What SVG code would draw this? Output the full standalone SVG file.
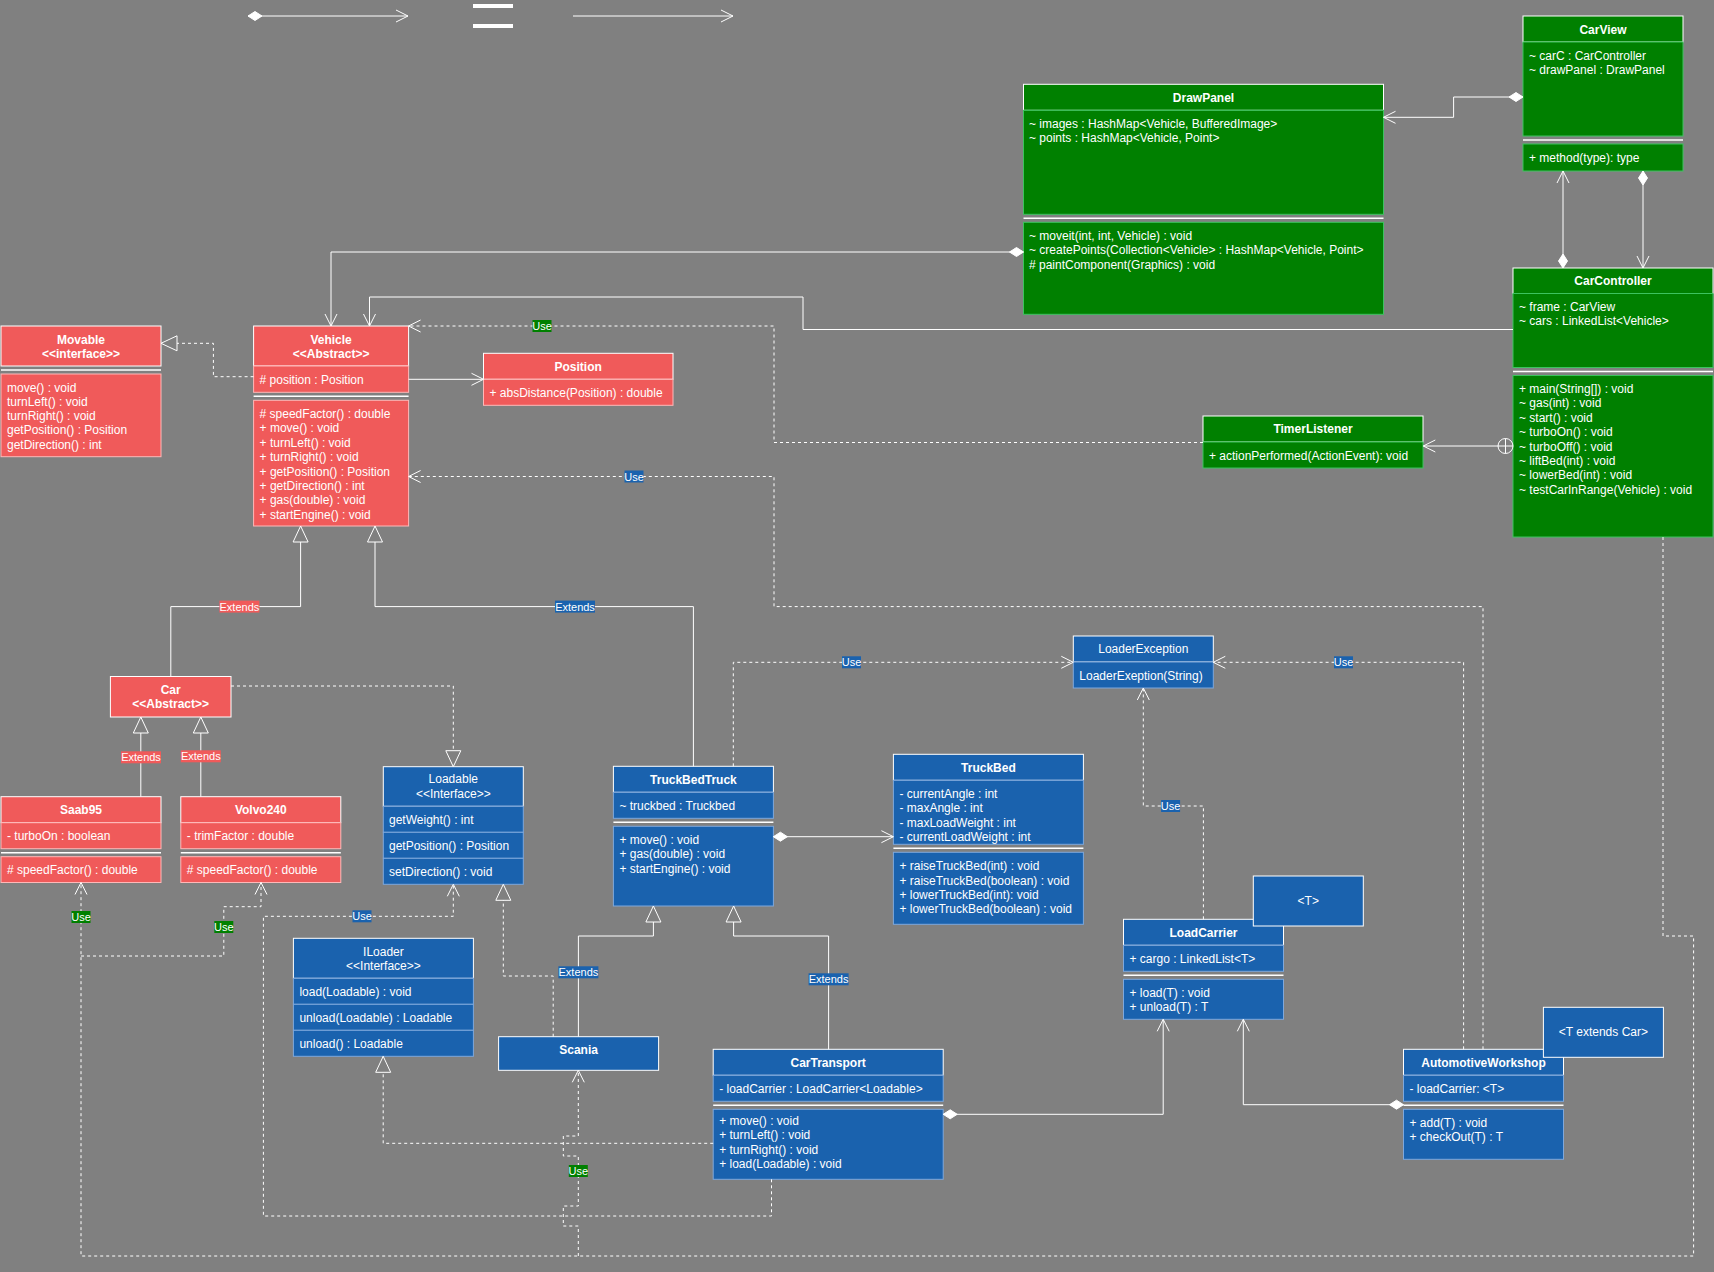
<svg xmlns="http://www.w3.org/2000/svg" width="1714" height="1272" viewBox="0 0 1714 1272">
  <style>
    text { font-family: "Liberation Sans", Arial, Helvetica, sans-serif; fill: #ffffff; font-size: 12px; }
    .b { font-weight: bold; text-anchor: middle; }
    .c { text-anchor: middle; }
    .lbl { font-size: 11px; text-anchor: middle; }
    .hg { fill: #008000; stroke: #ffffff; }
    .cg { fill: #008000; stroke: #3cc35f; }
    .hr { fill: #f05a5a; stroke: #ffffff; }
    .cr { fill: #f05a5a; stroke: #ffb8b8; }
    .hb { fill: #1a62ae; stroke: #ffffff; }
    .cb { fill: #1a62ae; stroke: #7ea8dc; }
    .sep { stroke: #ffffff; stroke-width: 1.5; }
    .ln { fill: none; stroke: #ffffff; stroke-width: 1; }
    .dash { stroke-dasharray: 3 3; }
    .lg { fill: #008000; }
    .lb { fill: #1a62ae; }
    .lr { fill: #f05a5a; }
  </style>
  <defs>
    <marker id="open" markerUnits="userSpaceOnUse" markerWidth="14" markerHeight="14" refX="13" refY="7" orient="auto" overflow="visible">
      <path d="M1,1 L13,7 L1,13" fill="none" stroke="#ffffff" stroke-width="1"/>
    </marker>
    <marker id="diamond" markerUnits="userSpaceOnUse" markerWidth="14" markerHeight="10" refX="0" refY="5" orient="auto" overflow="visible">
      <path d="M0,5 L7,0.5 L14,5 L7,9.5 Z" fill="#ffffff" stroke="#ffffff" stroke-width="1"/>
    </marker>
    <marker id="tri" markerUnits="userSpaceOnUse" markerWidth="16" markerHeight="16" refX="16" refY="8" orient="auto" overflow="visible">
      <path d="M0,0.5 L16,8 L0,15.5 Z" fill="#808080" stroke="#ffffff" stroke-width="1"/>
    </marker>
  </defs>

  <rect x="0" y="0" width="1714" height="1272" fill="#808080"/>

  <!-- notation strip -->
  <g id="legend">
    <path class="ln" d="M248,16 H408" marker-start="url(#diamond)" marker-end="url(#open)"/>
    <rect x="473" y="4" width="40" height="4" fill="#ffffff"/>
    <rect x="473" y="24" width="40" height="4" fill="#ffffff"/>
    <path class="ln" d="M573,16 H733" marker-end="url(#open)"/>
  </g>

  <!-- ===== classes ===== -->
  <g id="carview">
    <rect class="hg" x="1523" y="16" width="160" height="26"/>
    <rect class="cg" x="1523" y="42" width="160" height="94"/>
    <line class="sep" x1="1523" y1="140" x2="1683" y2="140"/>
    <rect class="cg" x="1523" y="144" width="160" height="27"/>
    <text class="b" x="1603" y="34">CarView</text>
    <text x="1529" y="59.7">~ carC : CarController</text>
    <text x="1529" y="74">~ drawPanel : DrawPanel</text>
    <text x="1529" y="162">+ method(type): type</text>
  </g>

  <g id="drawpanel">
    <rect class="hg" x="1023.5" y="84.3" width="360" height="26"/>
    <rect class="cg" x="1023.5" y="110.3" width="360" height="104"/>
    <line class="sep" x1="1023.5" y1="218.3" x2="1383.5" y2="218.3"/>
    <rect class="cg" x="1023.5" y="222.3" width="360" height="92"/>
    <text class="b" x="1203.5" y="101.7">DrawPanel</text>
    <text x="1029" y="128">~ images : HashMap&lt;Vehicle, BufferedImage&gt;</text>
    <text x="1029" y="142">~ points : HashMap&lt;Vehicle, Point&gt;</text>
    <text x="1029" y="240">~ moveit(int, int, Vehicle) : void</text>
    <text x="1029" y="254.4">~ createPoints(Collection&lt;Vehicle&gt; : HashMap&lt;Vehicle, Point&gt;</text>
    <text x="1029" y="268.8"># paintComponent(Graphics) : void</text>
  </g>

  <g id="carcontroller">
    <rect class="hg" x="1513" y="268" width="200" height="25.5"/>
    <rect class="cg" x="1513" y="293.5" width="200" height="74"/>
    <line class="sep" x1="1513" y1="371.5" x2="1713" y2="371.5"/>
    <rect class="cg" x="1513" y="375.5" width="200" height="161.5"/>
    <text class="b" x="1613" y="285">CarController</text>
    <text x="1519" y="310.7">~ frame : CarView</text>
    <text x="1519" y="325.1">~ cars : LinkedList&lt;Vehicle&gt;</text>
    <text x="1519" y="393">+ main(String[]) : void</text>
    <text x="1519" y="407.4">~ gas(int) : void</text>
    <text x="1519" y="421.8">~ start() : void</text>
    <text x="1519" y="436.2">~ turboOn() : void</text>
    <text x="1519" y="450.6">~ turboOff() : void</text>
    <text x="1519" y="465">~ liftBed(int) : void</text>
    <text x="1519" y="479.4">~ lowerBed(int) : void</text>
    <text x="1519" y="493.8">~ testCarInRange(Vehicle) : void</text>
  </g>

  <g id="timerlistener">
    <rect class="hg" x="1203" y="416" width="220" height="26"/>
    <rect class="cg" x="1203" y="442" width="220" height="26"/>
    <text class="b" x="1313" y="433">TimerListener</text>
    <text x="1209" y="459.5">+ actionPerformed(ActionEvent): void</text>
  </g>

  <g id="movable">
    <rect class="hr" x="1" y="326" width="160" height="40"/>
    <line class="sep" x1="1" y1="370" x2="161" y2="370"/>
    <rect class="cr" x="1" y="374" width="160" height="82.7"/>
    <text class="b" x="81" y="344">Movable</text>
    <text class="b" x="81" y="358">&lt;&lt;interface&gt;&gt;</text>
    <text x="7" y="391.7">move() : void</text>
    <text x="7" y="405.7">turnLeft() : void</text>
    <text x="7" y="420">turnRight() : void</text>
    <text x="7" y="434.4">getPosition() : Position</text>
    <text x="7" y="448.8">getDirection() : int</text>
  </g>

  <g id="vehicle">
    <rect class="hr" x="253.6" y="326" width="155" height="40"/>
    <rect class="cr" x="253.6" y="366" width="155" height="26.3"/>
    <line class="sep" x1="253.6" y1="396.3" x2="408.6" y2="396.3"/>
    <rect class="cr" x="253.6" y="400.3" width="155" height="125.7"/>
    <text class="b" x="331.1" y="344">Vehicle</text>
    <text class="b" x="331.1" y="358">&lt;&lt;Abstract&gt;&gt;</text>
    <text x="259.6" y="384"># position : Position</text>
    <text x="259.6" y="418"># speedFactor() : double</text>
    <text x="259.6" y="432.4">+ move() : void</text>
    <text x="259.6" y="446.8">+ turnLeft() : void</text>
    <text x="259.6" y="461.2">+ turnRight() : void</text>
    <text x="259.6" y="475.6">+ getPosition() : Position</text>
    <text x="259.6" y="490">+ getDirection() : int</text>
    <text x="259.6" y="504.4">+ gas(double) : void</text>
    <text x="259.6" y="518.8">+ startEngine() : void</text>
  </g>

  <g id="position">
    <rect class="hr" x="483.5" y="353.3" width="189.5" height="26"/>
    <rect class="cr" x="483.5" y="379.3" width="189.5" height="26"/>
    <text class="b" x="578.2" y="370.5">Position</text>
    <text x="489.5" y="396.5">+ absDistance(Position) : double</text>
  </g>

  <g id="car">
    <rect class="hr" x="110.4" y="676.5" width="120.6" height="40.5"/>
    <text class="b" x="170.7" y="694">Car</text>
    <text class="b" x="170.7" y="708">&lt;&lt;Abstract&gt;&gt;</text>
  </g>

  <g id="saab95">
    <rect class="hr" x="1" y="796.7" width="160" height="26"/>
    <rect class="cr" x="1" y="822.7" width="160" height="26"/>
    <line class="sep" x1="1" y1="852.7" x2="161" y2="852.7"/>
    <rect class="cr" x="1" y="856.7" width="160" height="25.8"/>
    <text class="b" x="81" y="813.7">Saab95</text>
    <text x="7" y="839.7">- turboOn : boolean</text>
    <text x="7" y="873.7"># speedFactor() : double</text>
  </g>

  <g id="volvo240">
    <rect class="hr" x="180.8" y="796.7" width="160" height="26"/>
    <rect class="cr" x="180.8" y="822.7" width="160" height="26"/>
    <line class="sep" x1="180.8" y1="852.7" x2="340.8" y2="852.7"/>
    <rect class="cr" x="180.8" y="856.7" width="160" height="25.8"/>
    <text class="b" x="260.8" y="813.7">Volvo240</text>
    <text x="186.8" y="839.7">- trimFactor : double</text>
    <text x="186.8" y="873.7"># speedFactor() : double</text>
  </g>

  <g id="loadable">
    <rect class="hb" x="383.3" y="766.7" width="140" height="39.6"/>
    <rect class="cb" x="383.3" y="806.3" width="140" height="26"/>
    <rect class="cb" x="383.3" y="832.3" width="140" height="26"/>
    <rect class="cb" x="383.3" y="858.3" width="140" height="26"/>
    <text class="c" x="453.3" y="783">Loadable</text>
    <text class="c" x="453.3" y="798">&lt;&lt;Interface&gt;&gt;</text>
    <text x="389" y="823.5">getWeight() : int</text>
    <text x="389" y="849.5">getPosition() : Position</text>
    <text x="389" y="875.5">setDirection() : void</text>
  </g>

  <g id="iloader">
    <rect class="hb" x="293.4" y="938.3" width="180" height="40"/>
    <rect class="cb" x="293.4" y="978.3" width="180" height="26"/>
    <rect class="cb" x="293.4" y="1004.3" width="180" height="26"/>
    <rect class="cb" x="293.4" y="1030.3" width="180" height="26"/>
    <text class="c" x="383.4" y="955.5">ILoader</text>
    <text class="c" x="383.4" y="969.5">&lt;&lt;Interface&gt;&gt;</text>
    <text x="299.4" y="995.5">load(Loadable) : void</text>
    <text x="299.4" y="1021.5">unload(Loadable) : Loadable</text>
    <text x="299.4" y="1047.5">unload() : Loadable</text>
  </g>

  <g id="truckbedtruck">
    <rect class="hb" x="613.4" y="766.3" width="160" height="26"/>
    <rect class="cb" x="613.4" y="792.3" width="160" height="26"/>
    <line class="sep" x1="613.4" y1="822.3" x2="773.4" y2="822.3"/>
    <rect class="cb" x="613.4" y="826.3" width="160" height="79.7"/>
    <text class="b" x="693.4" y="783.5">TruckBedTruck</text>
    <text x="619.4" y="809.5">~ truckbed : Truckbed</text>
    <text x="619.4" y="844">+ move() : void</text>
    <text x="619.4" y="858.4">+ gas(double) : void</text>
    <text x="619.4" y="872.8">+ startEngine() : void</text>
  </g>

  <g id="truckbed">
    <rect class="hb" x="893.4" y="754.3" width="190" height="26"/>
    <rect class="cb" x="893.4" y="780.3" width="190" height="64"/>
    <line class="sep" x1="893.4" y1="848.3" x2="1083.4" y2="848.3"/>
    <rect class="cb" x="893.4" y="852.3" width="190" height="72"/>
    <text class="b" x="988.4" y="771.5">TruckBed</text>
    <text x="899.4" y="797.7">- currentAngle : int</text>
    <text x="899.4" y="812.1">- maxAngle : int</text>
    <text x="899.4" y="826.5">- maxLoadWeight : int</text>
    <text x="899.4" y="840.9">- currentLoadWeight : int</text>
    <text x="899.4" y="870.1">+ raiseTruckBed(int) : void</text>
    <text x="899.4" y="884.5">+ raiseTruckBed(boolean) : void</text>
    <text x="899.4" y="898.9">+ lowerTruckBed(int): void</text>
    <text x="899.4" y="913.3">+ lowerTruckBed(boolean) : void</text>
  </g>

  <g id="loaderexception">
    <rect class="hb" x="1073.3" y="636" width="140" height="26"/>
    <rect class="cb" x="1073.3" y="662" width="140" height="26"/>
    <text class="c" x="1143.3" y="653">LoaderException</text>
    <text x="1079.3" y="679.5">LoaderExeption(String)</text>
  </g>

  <g id="scania">
    <rect class="hb" x="498.6" y="1036.7" width="160" height="33.6"/>
    <text class="b" x="578.6" y="1054">Scania</text>
  </g>

  <g id="cartransport">
    <rect class="hb" x="713.2" y="1049.3" width="230" height="26"/>
    <rect class="cb" x="713.2" y="1075.3" width="230" height="26"/>
    <line class="sep" x1="713.2" y1="1105.3" x2="943.2" y2="1105.3"/>
    <rect class="cb" x="713.2" y="1109.3" width="230" height="70"/>
    <text class="b" x="828.2" y="1066.5">CarTransport</text>
    <text x="719.2" y="1092.5">- loadCarrier : LoadCarrier&lt;Loadable&gt;</text>
    <text x="719.2" y="1125">+ move() : void</text>
    <text x="719.2" y="1139.4">+ turnLeft() : void</text>
    <text x="719.2" y="1153.8">+ turnRight() : void</text>
    <text x="719.2" y="1168.2">+ load(Loadable) : void</text>
  </g>

  <g id="loadcarrier">
    <rect class="hb" x="1123.5" y="919.3" width="160" height="26"/>
    <rect class="cb" x="1123.5" y="945.3" width="160" height="26"/>
    <line class="sep" x1="1123.5" y1="975.3" x2="1283.5" y2="975.3"/>
    <rect class="cb" x="1123.5" y="979.3" width="160" height="40"/>
    <text class="b" x="1203.5" y="936.5">LoadCarrier</text>
    <text x="1129.5" y="962.5">+ cargo : LinkedList&lt;T&gt;</text>
    <text x="1129.5" y="996.7">+ load(T) : void</text>
    <text x="1129.5" y="1011.1">+ unload(T) : T</text>
  </g>

  <g id="loadcarrier-param">
    <rect class="hb" x="1253.3" y="876" width="110" height="50"/>
    <text class="c" x="1308.3" y="905">&lt;T&gt;</text>
  </g>

  <g id="automotiveworkshop">
    <rect class="hb" x="1403.5" y="1049.3" width="160" height="26"/>
    <rect class="cb" x="1403.5" y="1075.3" width="160" height="26"/>
    <line class="sep" x1="1403.5" y1="1105.3" x2="1563.5" y2="1105.3"/>
    <rect class="cb" x="1403.5" y="1109.3" width="160" height="50"/>
    <text class="b" x="1483.5" y="1066.5">AutomotiveWorkshop</text>
    <text x="1409.5" y="1092.5">- loadCarrier: &lt;T&gt;</text>
    <text x="1409.5" y="1126.7">+ add(T) : void</text>
    <text x="1409.5" y="1141.1">+ checkOut(T) : T</text>
  </g>

  <g id="automotiveworkshop-param">
    <rect class="hb" x="1543.4" y="1007.3" width="120" height="50"/>
    <text class="c" x="1603.4" y="1036">&lt;T extends Car&gt;</text>
  </g>

  <!-- ===== connectors ===== -->
  <g id="connectors">
    <!-- compositions / associations -->
    <path class="ln" d="M1523,97 H1453.6 V117.3 H1383.5" marker-start="url(#diamond)" marker-end="url(#open)"/>
    <path class="ln" d="M1563,268 V171" marker-start="url(#diamond)" marker-end="url(#open)"/>
    <path class="ln" d="M1643,171 V268" marker-start="url(#diamond)" marker-end="url(#open)"/>
    <path class="ln" d="M1023.5,252 H331 V326" marker-start="url(#diamond)" marker-end="url(#open)"/>
    <path class="ln" d="M1513,329.5 H803 V297 H369.5 V326" marker-end="url(#open)"/>
    <circle cx="1505.5" cy="446" r="7.5" fill="#808080" stroke="#ffffff"/>
    <path class="ln" d="M1498,446 H1513 M1505.5,438.5 V453.5"/>
    <path class="ln" d="M1498,446 H1423.3" marker-end="url(#open)"/>
    <path class="ln" d="M408.6,379.3 H483.5" marker-end="url(#open)"/>
    <path class="ln" d="M773.4,836.7 H893.4" marker-start="url(#diamond)" marker-end="url(#open)"/>
    <path class="ln" d="M943.2,1114.3 H1163.2 V1019.3" marker-start="url(#diamond)" marker-end="url(#open)"/>
    <path class="ln" d="M1403.5,1104.7 H1243.3 V1019.3" marker-start="url(#diamond)" marker-end="url(#open)"/>

    <!-- generalisations -->
    <path class="ln" d="M170.8,676.5 V606.6 H300.6 V526" marker-end="url(#tri)"/>
    <path class="ln" d="M693.4,766.3 V606.6 H375 V526" marker-end="url(#tri)"/>
    <path class="ln" d="M140.8,796.7 V717" marker-end="url(#tri)"/>
    <path class="ln" d="M200.8,796.7 V717" marker-end="url(#tri)"/>
    <path class="ln" d="M578.4,1036.7 V936 H653.4 V906" marker-end="url(#tri)"/>
    <path class="ln" d="M828.6,1049.3 V936 H733.6 V906" marker-end="url(#tri)"/>

    <!-- realisations -->
    <path class="ln dash" d="M253.6,376.7 H213.4 V343.3 H161" marker-end="url(#tri)"/>
    <path class="ln dash" d="M231,686 H453.3 V766.7" marker-end="url(#tri)"/>
    <path class="ln dash" d="M553.2,1036.7 V976 H503.3 V884.3" marker-end="url(#tri)"/>
    <path class="ln dash" d="M713.2,1143.3 H383.2 V1056.3" marker-end="url(#tri)"/>

    <!-- dependencies -->
    <path class="ln dash" d="M1203,442.5 H774 V326 H408.6" marker-end="url(#open)"/>
    <path class="ln dash" d="M1483,1049.3 V606.6 H774 V476.5 H408.6" marker-end="url(#open)"/>
    <path class="ln dash" d="M1663,537 V936 H1693.6 V1256 H81 V882.5" marker-end="url(#open)"/>
    <path class="ln dash" d="M81,956 H223.8 V906.7 H261 V882.5" marker-end="url(#open)"/>
    <path class="ln dash" d="M771.5,1179.3 V1216 H263.4 V916.3 H453.3 V884.3" marker-end="url(#open)"/>
    <path class="ln dash" d="M578.3,1256 V1226 H563.3 V1206 H578.3 V1156 H563.3 V1136 H578.3 V1070.3" marker-end="url(#open)"/>
    <path class="ln dash" d="M733.3,766.3 V662.3 H1073.3" marker-end="url(#open)"/>
    <path class="ln dash" d="M1203.4,919.3 V806 H1143.3 V688" marker-end="url(#open)"/>
    <path class="ln dash" d="M1463.6,1049.3 V662.3 H1213.3" marker-end="url(#open)"/>

    <!-- edge labels -->
    <rect class="lg" x="532.5" y="320" width="19" height="12"/><text class="lbl" x="542" y="330">Use</text>
    <rect class="lg" x="71.5" y="911" width="19" height="12"/><text class="lbl" x="81" y="921">Use</text>
    <rect class="lg" x="214.3" y="921" width="19" height="12"/><text class="lbl" x="223.8" y="931">Use</text>
    <rect class="lg" x="568.8" y="1165" width="19" height="12"/><text class="lbl" x="578.3" y="1175">Use</text>
    <rect class="lb" x="624.5" y="470.5" width="19" height="12"/><text class="lbl" x="634" y="480.5">Use</text>
    <rect class="lb" x="352.5" y="910.3" width="19" height="12"/><text class="lbl" x="362" y="920.3">Use</text>
    <rect class="lb" x="842" y="656.3" width="19" height="12"/><text class="lbl" x="851.5" y="666.3">Use</text>
    <rect class="lb" x="1161.1" y="800" width="19" height="12"/><text class="lbl" x="1170.6" y="810">Use</text>
    <rect class="lb" x="1334" y="656.3" width="19" height="12"/><text class="lbl" x="1343.5" y="666.3">Use</text>
    <rect class="lr" x="219.4" y="600.6" width="40" height="12"/><text class="lbl" x="239.4" y="610.6">Extends</text>
    <rect class="lr" x="121" y="751.3" width="40" height="12"/><text class="lbl" x="141" y="761.3">Extends</text>
    <rect class="lr" x="180.8" y="750.3" width="40" height="12"/><text class="lbl" x="200.8" y="760.3">Extends</text>
    <rect class="lb" x="555" y="600.6" width="40" height="12"/><text class="lbl" x="575" y="610.6">Extends</text>
    <rect class="lb" x="558.4" y="966.3" width="40" height="12"/><text class="lbl" x="578.4" y="976.3">Extends</text>
    <rect class="lb" x="808.6" y="973.3" width="40" height="12"/><text class="lbl" x="828.6" y="983.3">Extends</text>
  </g>
</svg>
